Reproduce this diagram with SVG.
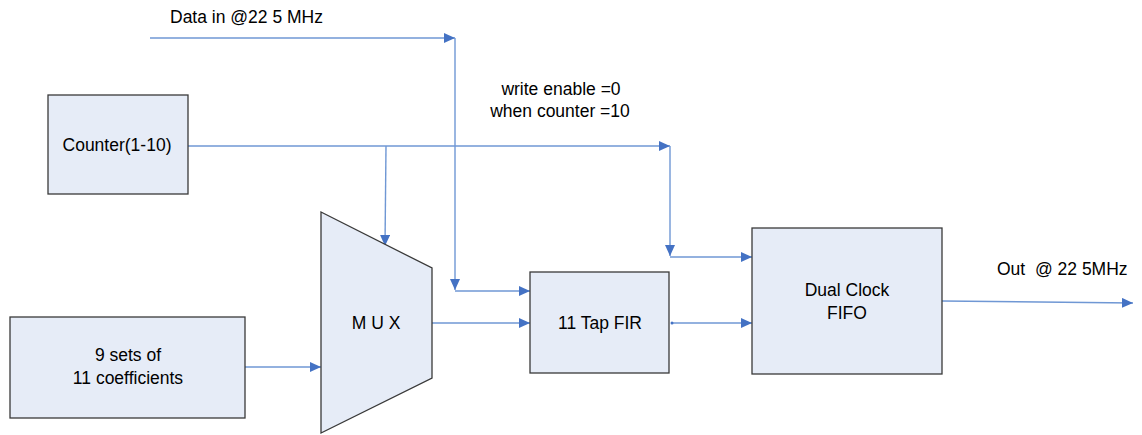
<svg xmlns="http://www.w3.org/2000/svg" width="1142" height="435" viewBox="0 0 1142 435">
  <style>
    .block { fill: #E6ECF7; stroke: #3A3A3A; stroke-width: 1.3; }
    .wire { fill: none; stroke: #6F97D4; stroke-width: 1.4; }
    .label { font-family: "Liberation Sans", Arial, sans-serif; font-size: 17.5px; fill: #000; }
    .mid { text-anchor: middle; }
  </style>
  <defs>
    <marker id="arrow" markerUnits="userSpaceOnUse" markerWidth="12" markerHeight="12" refX="11" refY="5" orient="auto">
      <path d="M0,0 L11,5 L0,10 Z" fill="#4472C4"/>
    </marker>
    <marker id="dot" markerUnits="userSpaceOnUse" markerWidth="4" markerHeight="4" refX="2" refY="2">
      <circle cx="2" cy="2" r="1.5" fill="#4472C4"/>
    </marker>
  </defs>

  <rect width="1142" height="435" fill="#FFFFFF"/>

  <!-- connectors -->
  <g id="connectors">
    <!-- data input to FIR -->
    <path class="wire" d="M150,38 L455,38" marker-end="url(#arrow)"/>
    <path class="wire" d="M455,38 L455,290" marker-end="url(#arrow)"/>
    <path class="wire" d="M455,291 L530,291" marker-end="url(#arrow)"/>
    <!-- counter to FIFO write enable -->
    <path class="wire" d="M188,146 L670,146" marker-end="url(#arrow)"/>
    <path class="wire" d="M670,146 L670,256" marker-end="url(#arrow)"/>
    <path class="wire" d="M670,257 L752,257" marker-end="url(#arrow)"/>
    <!-- counter to MUX select -->
    <path class="wire" d="M386,146 L385,246" marker-end="url(#arrow)"/>
    <!-- coefficients to MUX -->
    <path class="wire" d="M245,367 L321,367" marker-end="url(#arrow)"/>
    <!-- MUX to FIR -->
    <path class="wire" d="M432,323 L530,323" marker-end="url(#arrow)"/>
    <!-- FIR to FIFO -->
    <path class="wire" d="M672,323 L752,323" marker-start="url(#dot)" marker-end="url(#arrow)"/>
    <!-- FIFO output -->
    <path class="wire" d="M942,301 L1133,303" marker-end="url(#arrow)"/>
  </g>

  <!-- free labels -->
  <g id="labels">
    <text class="label" x="170" y="23">Data in @22 5 MHz</text>
    <text class="label mid" x="561" y="95">write enable =0</text>
    <text class="label mid" x="560" y="117">when counter =10</text>
    <text class="label" x="997" y="275">Out&#160; @ 22 5MHz</text>
  </g>

  <g id="counter">
    <rect class="block" x="48" y="95" width="140" height="99"/>
    <text class="label mid" x="117" y="151">Counter(1-10)</text>
  </g>

  <g id="coefficients">
    <rect class="block" x="10" y="317" width="235" height="101"/>
    <text class="label mid" x="128" y="361">9 sets of</text>
    <text class="label mid" x="128" y="384">11 coefficients</text>
  </g>

  <g id="mux">
    <path class="block" d="M321,212 L432,268 L432,378 L321,433 Z"/>
    <text class="label mid" x="376" y="329">M U X</text>
  </g>

  <g id="fir">
    <rect class="block" x="530" y="272" width="139" height="101"/>
    <text class="label mid" x="600" y="329">11 Tap FIR</text>
  </g>

  <g id="fifo">
    <rect class="block" x="752" y="228" width="190" height="146"/>
    <text class="label mid" x="847" y="296">Dual Clock</text>
    <text class="label mid" x="847" y="319">FIFO</text>
  </g>
</svg>
